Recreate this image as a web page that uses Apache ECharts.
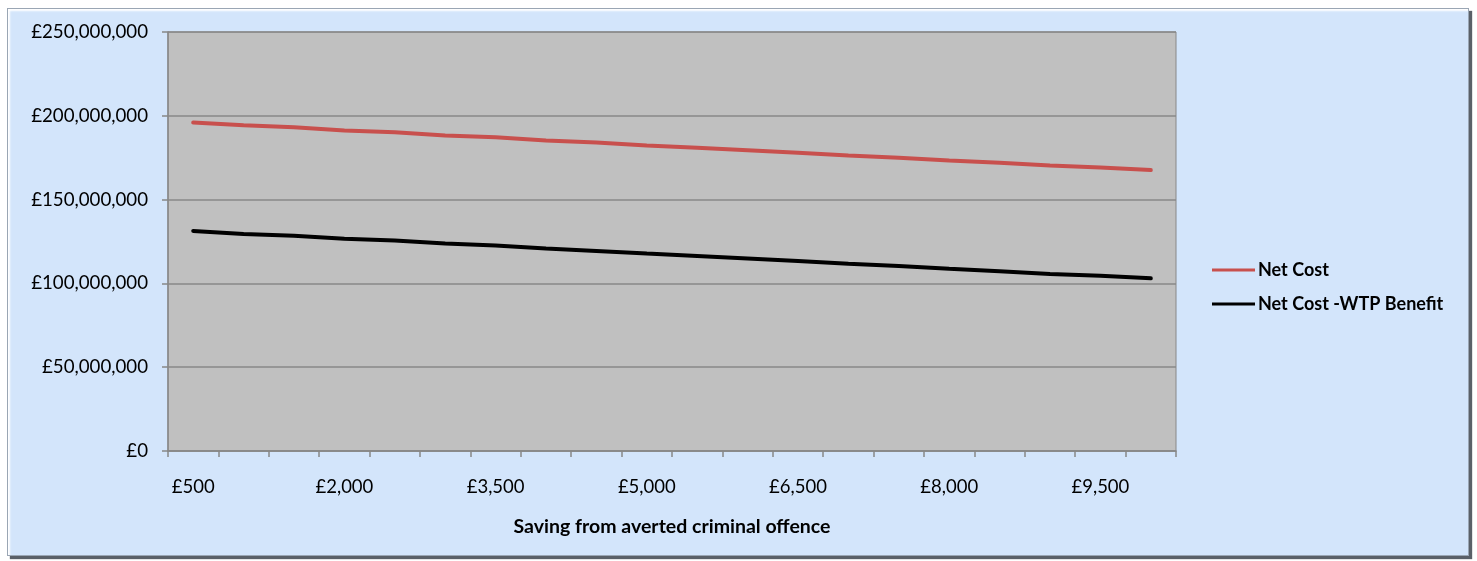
<!DOCTYPE html>
<html>
<head>
<meta charset="utf-8">
<script src="https://cdn.jsdelivr.net/npm/echarts@6/dist/echarts.min.js"></script>
<style>
html,body{margin:0;padding:0;background:#ffffff;width:1477px;height:561px;overflow:hidden;}
#frame{position:absolute;left:7px;top:8px;width:1460px;height:546px;background:#d3e5fb;
border:1px solid #9aa6b4;box-shadow:inset 2px 2px 2px #ffffff, 3px 3px 1px #5a6068;}
#chart{position:absolute;left:0;top:0;width:1477px;height:561px;}
</style>
</head>
<body>
<div id="frame"></div>
<div id="chart"></div>
<script>
const categories = ['£500','£1,000','£1,500','£2,000','£2,500','£3,000','£3,500','£4,000','£4,500','£5,000',
  '£5,500','£6,000','£6,500','£7,000','£7,500','£8,000','£8,500','£9,000','£9,500','£10,000'];
const netCost = [196.0,194.3,193.2,191.3,190.2,188.3,187.2,185.3,184.0,182.3,
  181.0,179.5,178.0,176.3,175.0,173.3,172.0,170.3,169.2,167.6];
const netCostWtp = [131.3,129.5,128.5,126.7,125.6,123.8,122.6,120.8,119.4,117.8,
  116.4,114.9,113.4,111.7,110.4,108.7,107.3,105.6,104.6,103.0];
const seriesNames = ['Net Cost','Net Cost -WTP Benefit'];
const xTitle = 'Saving from averted criminal offence';

const FONT = 'Lato';
function money(v){ return '£' + Math.round(v).toString().replace(/\B(?=(\d{3})+(?!\d))/g, ','); }

const chart = echarts.init(document.getElementById('chart'), null, {renderer:'canvas'});
chart.setOption({
  backgroundColor: 'transparent',
  animation: false,
  textStyle: {fontFamily: FONT},
  grid: {left:168, right:301, top:32, bottom:110, show:true, backgroundColor:'#c0c0c0',
         borderColor:'#888888', borderWidth:1},
  legend: {
    orient:'vertical', left:1207, top:256, itemWidth:43, itemHeight:3, itemGap:16,
    icon:'rect',
    data: seriesNames,
    textStyle:{fontFamily:FONT, fontSize:18, fontWeight:'bold', color:'#000', padding:[0,0,0,-2]}
  },
  xAxis: {
    type:'category', data:categories, boundaryGap:true,
    name: xTitle, nameLocation:'middle', nameGap:66,
    nameTextStyle:{fontFamily:FONT, fontSize:19.5, fontWeight:'bold', color:'#000'},
    axisLine:{show:true, lineStyle:{color:'#888888', width:1.5}},
    axisTick:{show:true, interval:0, length:6, inside:false, lineStyle:{color:'#888888', width:1.5}},
    axisLabel:{interval:2, margin:27, fontFamily:FONT, fontSize:18.5, color:'#000'},
    splitLine:{show:false}
  },
  yAxis: {
    type:'value', min:0, max:250, interval:50,
    axisLine:{show:true, lineStyle:{color:'#888888', width:1.5}},
    axisTick:{show:true, length:6, lineStyle:{color:'#888888', width:1.5}},
    axisLabel:{margin:20, fontFamily:FONT, fontSize:18.7, color:'#000',
      formatter: v => money(v*1000000)},
    splitLine:{show:true, lineStyle:{color:'#888888', width:1.5}}
  },
  series: [
    {name:seriesNames[0], type:'line', data:netCost, showSymbol:false, symbol:'none',
     lineStyle:{color:'#c8504d', width:4, cap:'round'}, itemStyle:{color:'#c8504d'}},
    {name:seriesNames[1], type:'line', data:netCostWtp, showSymbol:false, symbol:'none',
     lineStyle:{color:'#000000', width:4, cap:'round'}, itemStyle:{color:'#000000'}}
  ]
});
</script>
</body>
</html>
